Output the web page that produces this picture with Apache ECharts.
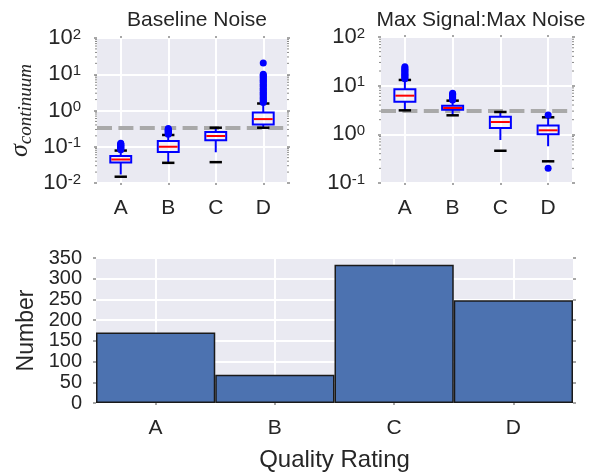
<!DOCTYPE html>
<html>
<head>
<meta charset="utf-8">
<title>Quality rating diagnostics</title>
<script src="https://cdn.jsdelivr.net/npm/echarts@6/dist/echarts.min.js"></script>
<style>
  html, body { margin: 0; padding: 0; background: #ffffff; }
  #chart { width: 601px; height: 473px; }
</style>
</head>
<body>
<div id="chart"></div>
<script>
// Quality classes shared by all three panels
const categories = ['A', 'B', 'C', 'D'];

// Baseline noise (sigma continuum): [lower cap, Q1, median, Q3, upper cap]
const noiseStats = [
  [0.0149, 0.0368, 0.0445, 0.056, 0.0785],
  [0.036, 0.072, 0.100, 0.145, 0.211],
  [0.0376, 0.151, 0.198, 0.255, 0.335],
  [0.335, 0.413, 0.579, 0.880, 1.56]
];
const noiseOutliers = [
  [0.082, 0.086, 0.090, 0.094, 0.098, 0.102, 0.106, 0.110, 0.115, 0.120, 0.125],
  [0.222, 0.234, 0.246, 0.258, 0.270, 0.285, 0.300, 0.320],
  [],
  [1.65, 1.8, 1.95, 2.1, 2.3, 2.5, 2.7, 2.95, 3.2, 3.5, 3.8, 4.1, 4.5, 4.9, 5.3, 5.8, 6.3, 6.8, 7.4, 8.0, 8.7, 9.4, 10.0, 20.5]
];
const noiseThreshold = 0.33;

// Max signal : max noise ratio
const snrStats = [
  [3.11, 4.69, 6.23, 8.41, 13.1],
  [2.46, 3.21, 3.48, 3.88, 4.92],
  [0.46, 1.35, 1.79, 2.31, 2.88],
  [0.279, 1.00, 1.21, 1.51, 2.24]
];
const snrOutliers = [
  [13.8, 14.6, 15.4, 16.3, 17.2, 18.2, 19.3, 20.5, 21.8, 23.2, 24.6],
  [5.1, 5.35, 5.6, 5.85, 6.1, 6.4, 6.7, 6.95],
  [],
  [0.2, 2.5]
];
const snrThreshold = 3;

// Number of spectra per quality rating
const counts = [170, 68, 334, 248];

const FONT = 'Liberation Sans, Arial, sans-serif';
const SERIF = 'Liberation Serif, DejaVu Serif, serif';
const TXT = '#262626';
const BG = '#EAEAF2';
const TICK = '#8a8a8a';

function boxData(stats) {
  return stats.map((s, i) => [i].concat(s));
}
function outlierData(lists) {
  const out = [];
  lists.forEach((vals, i) => vals.forEach(v => out.push([i, v])));
  return out;
}
// Minor log ticks (2..9 x 10^k) inside an axis range
function minorLogTicks(min, max) {
  const out = [];
  for (let k = Math.round(Math.log10(min)); k < Math.round(Math.log10(max)); k++) {
    for (let m = 2; m <= 9; m++) out.push([0, m * Math.pow(10, k)]);
  }
  return out;
}

// Box, dashed whiskers, black caps and red median, placed through the axes
function renderBox(params, api) {
  const band = params.coordSys.width / categories.length;
  const cat = api.value(0);
  const lo = api.coord([cat, api.value(1)]);
  const q1 = api.coord([cat, api.value(2)]);
  const md = api.coord([cat, api.value(3)]);
  const q3 = api.coord([cat, api.value(4)]);
  const hi = api.coord([cat, api.value(5)]);
  const x = lo[0];
  const bw = band * 0.44;
  const cw = band * 0.26;
  const blue = '#0000FF';
  const whisker = { stroke: blue, lineWidth: 2, lineDash: [12, 14], fill: null };
  return {
    type: 'group',
    children: [
      { type: 'line', shape: { x1: x, y1: q1[1], x2: x, y2: lo[1] }, style: whisker },
      { type: 'line', shape: { x1: x, y1: q3[1], x2: x, y2: hi[1] }, style: whisker },
      { type: 'rect', shape: { x: x - bw / 2, y: q3[1], width: bw, height: q1[1] - q3[1] },
        style: { stroke: blue, lineWidth: 2, fill: 'rgba(255,255,255,0.35)' } },
      { type: 'line', shape: { x1: x - bw / 2 + 1, y1: md[1], x2: x + bw / 2 - 1, y2: md[1] },
        style: { stroke: '#FF0000', lineWidth: 2 } },
      { type: 'line', shape: { x1: x - cw / 2, y1: lo[1], x2: x + cw / 2, y2: lo[1] },
        style: { stroke: '#000000', lineWidth: 2.5 } },
      { type: 'line', shape: { x1: x - cw / 2, y1: hi[1], x2: x + cw / 2, y2: hi[1] },
        style: { stroke: '#000000', lineWidth: 2.5 } }
    ]
  };
}

// Small minor tick marks on the left and right frame edges
function renderMinorTick(params, api) {
  const cs = params.coordSys;
  const y = api.coord([0, api.value(1)])[1];
  const st = { stroke: TICK, lineWidth: 1 };
  return {
    type: 'group',
    children: [
      { type: 'line', shape: { x1: cs.x - 2, y1: y, x2: cs.x, y2: y }, style: st },
      { type: 'line', shape: { x1: cs.x + cs.width, y1: y, x2: cs.x + cs.width + 2, y2: y }, style: st }
    ]
  };
}

function powLabel(v) {
  const e = Math.round(Math.log10(v));
  return '{b|10}{e|' + e + '}';
}
const powRich = {
  b: { fontSize: 22, fontFamily: FONT, color: TXT },
  e: { fontSize: 15, fontFamily: FONT, color: TXT, verticalAlign: 'top' }
};

function catAxis(gridIndex) {
  return {
    type: 'category', gridIndex: gridIndex, data: categories,
    axisLine: { show: false },
    axisTick: { show: true, alignWithLabel: true, length: 2, lineStyle: { color: TICK, width: 1.5 } },
    axisLabel: { fontSize: 21, fontFamily: FONT, color: TXT, margin: 15 },
    splitLine: { show: true, alignWithLabel: true, lineStyle: { color: '#ffffff', width: 2 } }
  };
}
function topTickAxis(gridIndex) {
  return {
    type: 'category', gridIndex: gridIndex, data: categories, position: 'top',
    axisLine: { show: false }, axisLabel: { show: false }, splitLine: { show: false },
    axisTick: { show: true, alignWithLabel: true, length: 2, lineStyle: { color: TICK, width: 1.5 } }
  };
}
function logAxis(gridIndex, min, max, extra) {
  return Object.assign({
    type: 'log', logBase: 10, gridIndex: gridIndex, min: min, max: max,
    axisLine: { show: false },
    axisTick: { show: true, length: 3, lineStyle: { color: TICK, width: 1.5 } },
    axisLabel: { formatter: powLabel, rich: powRich, margin: 16,
                 showMinLabel: true, showMaxLabel: true, hideOverlap: false },
    splitLine: { show: true, lineStyle: { color: '#ffffff', width: 2 } }
  }, extra || {});
}
function rightTickAxis(gridIndex, base) {
  return Object.assign({}, base, {
    gridIndex: gridIndex, position: 'right', name: '',
    axisLabel: { show: false }, splitLine: { show: false },
    axisTick: { show: true, length: 3, lineStyle: { color: TICK, width: 1.5 } }
  });
}

function thresholdLine(value) {
  return {
    silent: true, symbol: 'none', z: 1,
    label: { show: false },
    lineStyle: { color: '#A9A9A9', width: 4, type: [15, 6.4], opacity: 1 },
    emphasis: { disabled: true },
    data: [{ yAxis: value }]
  };
}

const chart = echarts.init(document.getElementById('chart'), null, { renderer: 'canvas' });

// Count labels are tightly packed: every one of them is kept
const countAxis = {
  type: 'value', gridIndex: 2, min: 0, max: 350, interval: 50,
  name: 'Number', nameLocation: 'middle', nameGap: 58,
  nameTextStyle: { fontSize: 23, fontFamily: FONT, color: TXT },
  axisLine: { show: false },
  axisTick: { show: true, length: 3, lineStyle: { color: TICK, width: 1.5 } },
  axisLabel: { fontSize: 20, fontFamily: FONT, color: TXT, margin: 14, interval: 0,
               showMinLabel: true, showMaxLabel: true, hideOverlap: false },
  splitLine: { show: true, lineStyle: { color: '#ffffff', width: 2 } }
};

chart.setOption({
  animation: false,
  backgroundColor: '#ffffff',
  title: [
    { text: 'Baseline Noise', left: 192, top: 5, textAlign: 'center',
      textStyle: { fontSize: 21, fontWeight: 'normal', fontFamily: FONT, color: TXT } },
    { text: 'Max Signal:Max Noise', left: 476, top: 5, textAlign: 'center',
      textStyle: { fontSize: 21, fontWeight: 'normal', fontFamily: FONT, color: TXT } }
  ],
  grid: [
    { left: 97, top: 38, width: 190, height: 145, show: true, backgroundColor: BG, borderWidth: 0 },
    { left: 381, top: 37, width: 191, height: 146, show: true, backgroundColor: BG, borderWidth: 0 },
    { left: 96, top: 258, width: 477, height: 147, show: true, backgroundColor: BG, borderWidth: 0 }
  ],
  xAxis: [
    catAxis(0),
    catAxis(1),
    Object.assign(catAxis(2), {
      name: 'Quality Rating', nameLocation: 'middle', nameGap: 45,
      nameTextStyle: { fontSize: 24, fontFamily: FONT, color: TXT }
    }),
    topTickAxis(0),
    topTickAxis(1),
    topTickAxis(2)
  ],
  yAxis: [
    logAxis(0, 0.01, 100, {
      name: '{s|σ}{c|continuum}', nameLocation: 'middle', nameGap: 62,
      nameTextStyle: {
        rich: {
          s: { fontSize: 26, fontFamily: SERIF, fontStyle: 'italic', color: TXT },
          c: { fontSize: 19, fontFamily: SERIF, fontStyle: 'italic', color: TXT,
               verticalAlign: 'bottom', padding: [10, 0, 0, 0] }
        }
      }
    }),
    logAxis(1, 0.1, 100),
    countAxis,
    rightTickAxis(0, logAxis(0, 0.01, 100)),
    rightTickAxis(1, logAxis(1, 0.1, 100)),
    rightTickAxis(2, countAxis)
  ],
  series: [
    { type: 'custom', xAxisIndex: 0, yAxisIndex: 0, renderItem: renderMinorTick, silent: true,
      encode: { x: 0, y: 1 }, data: minorLogTicks(0.01, 100), clip: false },
    { type: 'scatter', xAxisIndex: 0, yAxisIndex: 0, data: [], markLine: thresholdLine(noiseThreshold) },
    { type: 'custom', xAxisIndex: 0, yAxisIndex: 0, renderItem: renderBox, z: 3,
      encode: { x: 0, y: [1, 2, 3, 4, 5] }, data: boxData(noiseStats) },
    { type: 'scatter', xAxisIndex: 0, yAxisIndex: 0, symbolSize: 7, z: 4,
      itemStyle: { color: '#0000FF', opacity: 1 }, data: outlierData(noiseOutliers) },

    { type: 'custom', xAxisIndex: 1, yAxisIndex: 1, renderItem: renderMinorTick, silent: true,
      encode: { x: 0, y: 1 }, data: minorLogTicks(0.1, 100), clip: false },
    { type: 'scatter', xAxisIndex: 1, yAxisIndex: 1, data: [], markLine: thresholdLine(snrThreshold) },
    { type: 'custom', xAxisIndex: 1, yAxisIndex: 1, renderItem: renderBox, z: 3,
      encode: { x: 0, y: [1, 2, 3, 4, 5] }, data: boxData(snrStats) },
    { type: 'scatter', xAxisIndex: 1, yAxisIndex: 1, symbolSize: 7, z: 4,
      itemStyle: { color: '#0000FF', opacity: 1 }, data: outlierData(snrOutliers) },

    { type: 'bar', xAxisIndex: 2, yAxisIndex: 2, data: counts, barCategoryGap: '0%',
      itemStyle: { color: '#4C72B0', borderColor: '#1a1a1a', borderWidth: 1.5 } }
  ]
});
</script>
</body>
</html>
